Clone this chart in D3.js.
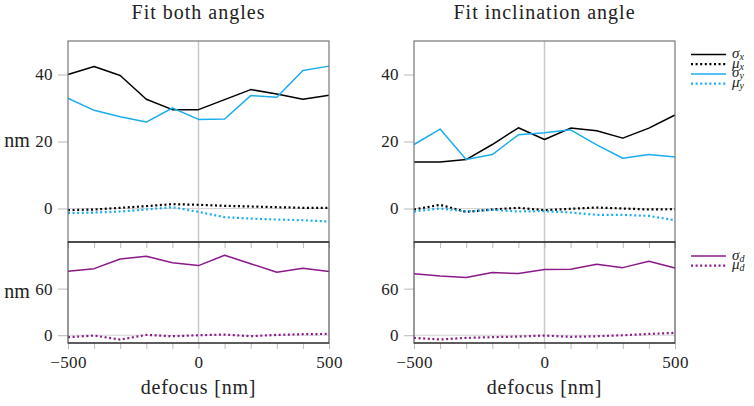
<!DOCTYPE html>
<html><head><meta charset="utf-8">
<script src="https://cdn.jsdelivr.net/npm/d3@7"></script>
<style>
body{margin:0;background:#fff;}
</style></head>
<body><svg id="c" width="754" height="406"></svg>
<script>
const defocus = [-500,-400,-300,-200,-100,0,100,200,300,400,500];
// Fit both angles
const bothSigmaX = [40.0,42.4,39.7,32.6,29.5,29.5,32.5,35.5,34.2,32.6,33.8];
const bothMuX    = [-0.5,-0.3,0.2,0.7,1.3,1.1,0.8,0.6,0.4,0.2,0.2];
const bothSigmaY = [32.9,29.3,27.4,25.8,30.0,26.6,26.7,33.7,33.2,41.2,42.5];
const bothMuY    = [-1.4,-1.2,-0.9,-0.3,0.4,-1.0,-2.6,-3.0,-3.3,-3.5,-3.9];
const bothSigmaD = [82.3,85.7,98.1,101.6,93.4,89.6,102.9,92.1,81.0,86.1,81.9];
const bothMuD    = [-2.6,-0.4,-5.6,0.4,-1.3,0,0.9,-1.3,0.4,1.3,1.7];
// Fit inclination angle
const inclSigmaX = [13.9,13.9,14.6,19.1,24.1,20.6,24.0,23.2,21.0,24.0,27.9];
const inclMuX    = [-0.3,1.1,-1.0,-0.3,0.2,-0.5,-0.1,0.3,0,-0.3,-0.2];
const inclSigmaY = [19.1,23.7,14.6,16.1,22.0,22.6,23.5,19.0,15.0,16.1,15.4];
const inclMuY    = [-0.9,0,-0.9,-0.4,-0.9,-0.8,-1.2,-1.9,-1.9,-2.2,-3.5];
const inclSigmaD = [79.0,76.1,74.4,80.7,79.4,84.5,84.9,91.3,87.0,95.1,86.6];
const inclMuD    = [-3.4,-5.5,-3.4,-2.5,-1.7,-0.4,-2.1,-1.3,0,1.7,3.0];

const titles = ["Fit both angles","Fit inclination angle"];
const topTicks = [0,20,40];
const botTicks = [0,60];
const xTickLabels = [-500,0,500];

const FONT = "'Liberation Serif','Times New Roman','DejaVu Serif',serif";
const CYAN = "#1badee", PURPLE = "#8a1a8a";
const svg = d3.select("#c").style("font-family",FONT);

const panels = [
  {L:68,R:329,title:titles[0],ylab:true,
   top:[[bothSigmaX,"#000",false],[bothMuX,"#000",true],[bothSigmaY,CYAN,false],[bothMuY,CYAN,true]],
   bot:[[bothSigmaD,PURPLE,false],[bothMuD,PURPLE,true]]},
  {L:414,R:675,title:titles[1],ylab:false,
   top:[[inclSigmaX,"#000",false],[inclMuX,"#000",true],[inclSigmaY,CYAN,false],[inclMuY,CYAN,true]],
   bot:[[inclSigmaD,PURPLE,false],[inclMuD,PURPLE,true]]}
];
const T0=41, T1=242, B1=343;

function txt(sel,size){
  return sel.style("font-family",FONT).style("font-size",size+"px").attr("fill","#222");
}

panels.forEach(p=>{
  const x = d3.scaleLinear([-500,500],[p.L,p.R]);
  const yT = d3.scaleLinear([-10,50],[T1,T0]);
  const yB = d3.scaleLinear([-10,120],[B1,T1]);
  const g = svg.append("g");

  // grid lines: x=0 and y=0
  [[yT,T0,T1],[yB,T1,B1]].forEach(([y,a,b])=>{
    g.append("line").attr("x1",x(0)).attr("x2",x(0)).attr("y1",a).attr("y2",b)
      .attr("stroke","#c8c8c8").attr("stroke-width",1.5);
    g.append("line").attr("x1",p.L).attr("x2",p.R).attr("y1",y(0)).attr("y2",y(0))
      .attr("stroke","#d4d4d4").attr("stroke-width",1);
  });

  // y axes
  const ya = g.append("g").attr("transform",`translate(${p.L},0)`)
    .call(d3.axisLeft(yT).tickValues(topTicks).tickSize(10).tickPadding(5).tickFormat(d3.format("d")));
  const yb = g.append("g").attr("transform",`translate(${p.L},0)`)
    .call(d3.axisLeft(yB).tickValues(botTicks).tickSize(10).tickPadding(5).tickFormat(d3.format("d")));
  [ya,yb].forEach(a=>{
    a.attr("font-family",null);
    a.select(".domain").remove();
    a.selectAll(".tick line").attr("stroke","#b8b8b8");
    txt(a.selectAll(".tick text"),17).style("letter-spacing","0.4px");
  });

  // x ticks: top of bottom panel (inward) and bottom (outward)
  const xt = g.append("g").attr("transform",`translate(0,${T1})`)
    .call(d3.axisBottom(x).tickValues(defocus).tickSize(6).tickFormat(""));
  xt.select(".domain").remove();
  xt.selectAll(".tick line").attr("stroke","#bbb");
  const xb = g.append("g").attr("transform",`translate(0,${B1})`)
    .call(d3.axisBottom(x).tickValues(defocus).tickSize(6).tickPadding(7)
      .tickFormat(d=>xTickLabels.includes(d)?d3.format("d")(d):""));
  xb.attr("font-family",null);
  xb.select(".domain").remove();
  xb.selectAll(".tick line").attr("stroke","#bbb");
  txt(xb.selectAll(".tick text"),17).style("letter-spacing","0.4px");

  // series
  const draw = (arr,y)=>arr.forEach(([vals,col,dot])=>{
    const line = d3.line().x((d,i)=>x(defocus[i])).y(d=>y(d));
    g.append("path").attr("d",line(vals)).attr("fill","none").attr("stroke",col)
      .attr("stroke-width",dot?2.2:1.5).attr("stroke-linejoin","round")
      .attr("stroke-dasharray",dot?"2 2.6":null);
  });
  draw(p.top,yT); draw(p.bot,yB);

  // frames
  g.append("rect").attr("x",p.L).attr("y",T0).attr("width",p.R-p.L).attr("height",T1-T0)
    .attr("fill","none").attr("stroke","#777").attr("stroke-width",1.2);
  g.append("rect").attr("x",p.L).attr("y",T1).attr("width",p.R-p.L).attr("height",B1-T1)
    .attr("fill","none").attr("stroke","#555").attr("stroke-width",1.2);
  g.append("line").attr("x1",p.L).attr("x2",p.R).attr("y1",T1).attr("y2",T1).attr("stroke","#222").attr("stroke-width",1.2);
  g.append("line").attr("x1",p.L).attr("x2",p.R).attr("y1",B1).attr("y2",B1).attr("stroke","#222").attr("stroke-width",1.2);

  // titles & labels
  txt(g.append("text").attr("x",(p.L+p.R)/2).attr("y",19).attr("text-anchor","middle"),20)
    .style("letter-spacing","1px").text(p.title);
  txt(g.append("text").attr("x",(p.L+p.R)/2).attr("y",394).attr("text-anchor","middle"),20)
    .style("letter-spacing","0.8px").text("defocus [nm]");
  if(p.ylab){
    txt(g.append("text").attr("x",17).attr("y",(T0+T1)/2+5).attr("text-anchor","middle"),20).text("nm");
    txt(g.append("text").attr("x",17).attr("y",(T1+B1)/2+5).attr("text-anchor","middle"),20).text("nm");
  }
});

// legends
const legTop = [["σ","x","#000",false],["μ","x","#000",true],["σ","y",CYAN,false],["μ","y",CYAN,true]];
const legBot = [["σ","d",PURPLE,false],["μ","d",PURPLE,true]];
const drawLeg = (items,y0)=>items.forEach(([s,sub,col,dot],i)=>{
  const y = y0 + i*9.7;
  svg.append("line").attr("x1",691).attr("x2",726).attr("y1",y).attr("y2",y)
    .attr("stroke",col).attr("stroke-width",dot?2.2:1.5).attr("stroke-dasharray",dot?"2 2.6":null);
  const t = txt(svg.append("text").attr("x",732).attr("y",y+3.5),15).style("font-style","italic");
  t.append("tspan").text(s);
  t.append("tspan").attr("dy",2).style("font-size","10px").text(sub);
});
drawLeg(legTop,54.5);
drawLeg(legBot,256);
</script></body></html>
